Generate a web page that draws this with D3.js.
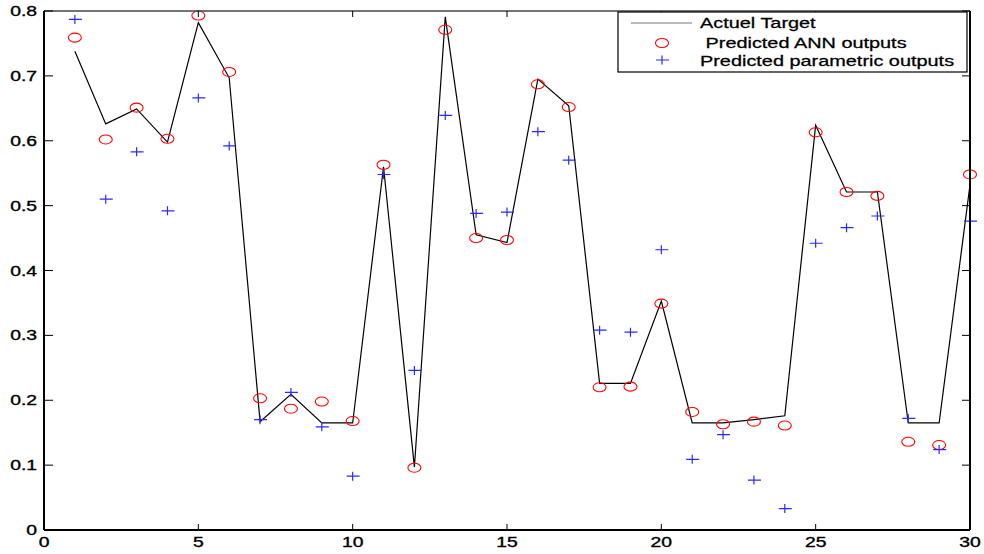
<!DOCTYPE html>
<html>
<head>
<meta charset="utf-8">
<script src="https://cdn.jsdelivr.net/npm/d3@7"></script>
<style>
body { margin: 0; background: #fff; }
text { font-family: "Liberation Sans", Arial, sans-serif; }
</style>
</head>
<body>
<div id="chart"></div>
<script>
var samples = d3.range(1, 31);
var target = [0.738, 0.626, 0.649, 0.598, 0.782, 0.697, 0.167, 0.209, 0.165, 0.165,
              0.560, 0.097, 0.791, 0.455, 0.443, 0.695, 0.654, 0.226, 0.226, 0.353,
              0.165, 0.165, 0.170, 0.176, 0.624, 0.521, 0.521, 0.165, 0.165, 0.532];
var annOut = [0.759, 0.602, 0.651, 0.603, 0.793, 0.706, 0.203, 0.187, 0.198, 0.168,
              0.563, 0.096, 0.771, 0.450, 0.447, 0.687, 0.652, 0.220, 0.221, 0.349,
              0.182, 0.163, 0.167, 0.161, 0.613, 0.521, 0.515, 0.136, 0.131, 0.548];
var paramOut = [0.787, 0.510, 0.583, 0.492, 0.666, 0.592, 0.170, 0.212, 0.159, 0.083,
                0.548, 0.246, 0.639, 0.488, 0.490, 0.614, 0.570, 0.308, 0.305, 0.432,
                0.109, 0.147, 0.077, 0.033, 0.442, 0.466, 0.484, 0.172, 0.124, 0.476];
var xTicks = [0, 5, 10, 15, 20, 25, 30];
var yTicks = [0, 0.1, 0.2, 0.3, 0.4, 0.5, 0.6, 0.7, 0.8];
var legendLabels = ["Actuel Target", " Predicted ANN outputs", "Predicted parametric outputs"];

var W = 984, H = 554;
var pLeft = 44, pRight = 970, pTop = 11, pBottom = 530;
var stretch = 1.38; // picture is wider than tall, text looks stretched

var svg = d3.select("#chart").append("svg").attr("width", W).attr("height", H);

var x = d3.scaleLinear().domain([0, 30]).range([pLeft, pRight]);
var y = d3.scaleLinear().domain([0, 0.8]).range([pBottom, pTop]);

// target line
var line = d3.line()
    .x(function (d, i) { return x(samples[i]); })
    .y(function (d) { return y(d); });
svg.append("path")
    .attr("d", line(target))
    .attr("fill", "none")
    .attr("stroke", "#000")
    .attr("stroke-width", 1.2);

// ANN outputs: red circles (squashed like the picture)
svg.selectAll(".ann")
    .data(annOut)
    .enter().append("ellipse")
    .attr("cx", function (d, i) { return x(samples[i]); })
    .attr("cy", function (d) { return y(d); })
    .attr("rx", 6.5)
    .attr("ry", 4.5)
    .attr("fill", "none")
    .attr("stroke", "#ff0000")
    .attr("stroke-width", 1.1);

// parametric outputs: blue pluses
function plusPath(cx, cy) {
    return "M" + (cx - 6) + " " + cy + "L" + (cx + 7) + " " + cy +
           "M" + cx + " " + (cy - 4.5) + "L" + cx + " " + (cy + 4.5);
}
svg.selectAll(".par")
    .data(paramOut)
    .enter().append("path")
    .attr("d", function (d, i) { return plusPath(x(samples[i]), y(d)); })
    .attr("fill", "none")
    .attr("stroke", "#2a2aff")
    .attr("stroke-width", 1.2);

// frame
svg.append("line").attr("x1", pLeft).attr("x2", pRight).attr("y1", pTop).attr("y2", pTop)
    .attr("stroke", "#444").attr("stroke-width", 1.5);
svg.append("line").attr("x1", pLeft).attr("x2", pRight).attr("y1", pBottom).attr("y2", pBottom)
    .attr("stroke", "#000").attr("stroke-width", 2);
svg.append("line").attr("x1", pLeft).attr("x2", pLeft).attr("y1", pTop).attr("y2", pBottom)
    .attr("stroke", "#000").attr("stroke-width", 2);
svg.append("line").attr("x1", pRight).attr("x2", pRight).attr("y1", pTop).attr("y2", pBottom)
    .attr("stroke", "#000").attr("stroke-width", 2);

// ticks
xTicks.forEach(function (t) {
    svg.append("line").attr("x1", x(t)).attr("x2", x(t)).attr("y1", pBottom).attr("y2", pBottom - 6)
        .attr("stroke", "#000").attr("stroke-width", 1);
    svg.append("line").attr("x1", x(t)).attr("x2", x(t)).attr("y1", pTop).attr("y2", pTop + 6)
        .attr("stroke", "#000").attr("stroke-width", 1);
    svg.append("text")
        .attr("transform", "translate(" + x(t) + "," + 547 + ") scale(" + stretch + ",1)")
        .attr("text-anchor", "middle")
        .attr("font-size", 14)
        .attr("fill", "#000")
        .attr("stroke", "#000")
        .attr("stroke-width", 0.35)
        .text(t);
});
yTicks.forEach(function (t) {
    svg.append("line").attr("x1", pLeft).attr("x2", pLeft + 9).attr("y1", y(t)).attr("y2", y(t))
        .attr("stroke", "#000").attr("stroke-width", 1);
    svg.append("line").attr("x1", pRight).attr("x2", pRight - 8).attr("y1", y(t)).attr("y2", y(t))
        .attr("stroke", "#000").attr("stroke-width", 1);
    svg.append("text")
        .attr("transform", "translate(" + 37 + "," + (y(t) + 5) + ") scale(" + stretch + ",1)")
        .attr("text-anchor", "end")
        .attr("font-size", 14)
        .attr("fill", "#000")
        .attr("stroke", "#000")
        .attr("stroke-width", 0.35)
        .text(t === 0 ? "0" : t.toFixed(1));
});

// legend
var lg = svg.append("g");
lg.append("rect").attr("x", 618).attr("y", 12).attr("width", 349).attr("height", 60)
    .attr("fill", "#fff").attr("stroke", "#000").attr("stroke-width", 1.2);
lg.append("line").attr("x1", 631).attr("x2", 692).attr("y1", 23).attr("y2", 23)
    .attr("stroke", "#777").attr("stroke-width", 1.2);
lg.append("ellipse").attr("cx", 662).attr("cy", 43).attr("rx", 6.5).attr("ry", 4.5)
    .attr("fill", "none").attr("stroke", "#ff0000").attr("stroke-width", 1.1);
lg.append("path").attr("d", plusPath(662, 60))
    .attr("fill", "none").attr("stroke", "#2a2aff").attr("stroke-width", 1.2);
var legendY = [28, 48, 66];
legendLabels.forEach(function (s, i) {
    lg.append("text")
        .attr("transform", "translate(" + 700 + "," + legendY[i] + ") scale(1.42,1)")
        .attr("font-size", 14)
        .attr("fill", "#000")
        .attr("stroke", "#000")
        .attr("stroke-width", 0.25)
        .style("white-space", "pre")
        .text(s);
});
</script>
</body>
</html>
